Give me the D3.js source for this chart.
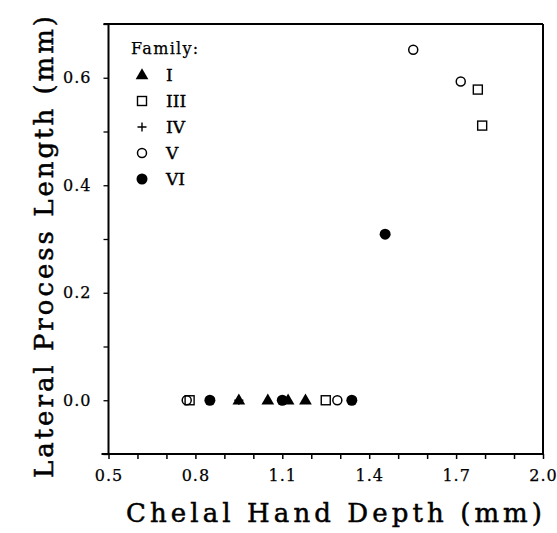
<!DOCTYPE html>
<html>
<head>
<meta charset="utf-8">
<script src="https://cdn.jsdelivr.net/npm/d3@7"></script>
<style>
  html, body { margin: 0; padding: 0; background: #fff; }
  svg { display: block; }
  text { font-family: "DejaVu Serif", "Liberation Serif", serif; fill: #000; }
</style>
</head>
<body>
<svg id="chart" width="557" height="533"></svg>
<script>
// ---- data ----
const families = ["I", "III", "IV", "V", "VI"];
const famI_x  = [0.95, 1.05, 1.12, 1.18];
const famI_y  = [0, 0, 0, 0];
const famIII_x = [0.78, 1.25, 1.775, 1.79];
const famIII_y = [0, 0, 0.578, 0.511];
const famIV_x = [0.95];
const famIV_y = [0];
const famV_x  = [0.77, 1.29, 1.552, 1.716];
const famV_y  = [0, 0, 0.652, 0.593];
const famVI_x = [0.85, 1.10, 1.34, 1.455];
const famVI_y = [0, 0, 0, 0.309];
const xTickLabels = [0.5, 0.8, 1.1, 1.4, 1.7, 2.0];
const yTickLabels = [0.0, 0.2, 0.4, 0.6];
const xTitle = "Chelal Hand Depth (mm)";
const yTitle = "Lateral Process Length (mm)";
const legendTitle = "Family:";

// ---- layout ----
const svg = d3.select("#chart");
const L = 108.5, R = 543, T = 24, B = 454;
const x = d3.scaleLinear().domain([0.5, 2.0]).range([L, R]);
const y = d3.scaleLinear().domain([-0.1, 0.7]).range([B, T]);

// frame
const frame = svg.append("g").attr("stroke", "#000").attr("fill", "none");
frame.append("line").attr("x1", L - 7).attr("x2", R).attr("y1", B).attr("y2", B).attr("stroke-width", 2.2);
frame.append("line").attr("x1", L - 5).attr("x2", R).attr("y1", T).attr("y2", T).attr("stroke-width", 2);
frame.append("line").attr("x1", L).attr("x2", L).attr("y1", T).attr("y2", B).attr("stroke-width", 2);
frame.append("line").attr("x1", R).attr("x2", R).attr("y1", T).attr("y2", B).attr("stroke-width", 2);

// bottom axis
const xAxis = d3.axisBottom(x)
  .tickValues(d3.range(0, 16).map(i => 0.5 + i * 0.1))
  .tickSize(5)
  .tickFormat(d => xTickLabels.some(v => Math.abs(v - d) < 1e-6) ? d3.format(".1f")(d) : "");
const gx = svg.append("g").attr("transform", `translate(0,${B})`).call(xAxis);
gx.select(".domain").remove();
gx.selectAll(".tick line").attr("stroke", "#000").attr("stroke-width", 1.5);
gx.selectAll(".tick text").attr("font-size", 16).attr("dy", "1.2em")
  .attr("font-family", "DejaVu Serif").attr("letter-spacing", "1px")
  .attr("stroke", "#000").attr("stroke-width", 0.25);

// left axis
const yAxis = d3.axisLeft(y)
  .tickValues(d3.range(0, 9).map(i => -0.1 + i * 0.1))
  .tickSize(5)
  .tickFormat(d => yTickLabels.some(v => Math.abs(v - d) < 1e-6) ? d3.format(".1f")(Math.abs(d) < 1e-9 ? 0 : d) : "");
const gy = svg.append("g").attr("transform", `translate(${L},0)`).call(yAxis);
gy.select(".domain").remove();
gy.selectAll(".tick line").attr("stroke", "#000").attr("stroke-width", 1.3);
gy.selectAll(".tick text").attr("font-size", 16).attr("x", -17)
  .attr("font-family", "DejaVu Serif").attr("letter-spacing", "1px")
  .attr("stroke", "#000").attr("stroke-width", 0.25);

// titles
svg.append("text")
  .attr("x", 126).attr("y", 522)
  .attr("font-size", 26).attr("stroke", "#000").attr("stroke-width", 0.5)
  .attr("textLength", 416).attr("lengthAdjust", "spacing")
  .text(xTitle);
svg.append("text")
  .attr("transform", `translate(53,478) rotate(-90)`)
  .attr("font-size", 26).attr("stroke", "#000").attr("stroke-width", 0.5)
  .attr("textLength", 462).attr("lengthAdjust", "spacing")
  .text(yTitle);

// markers
function drawMarker(g, fam, cx, cy) {
  if (fam === "I") {
    g.append("path").attr("d", d3.symbol(d3.symbolTriangle, 70)())
      .attr("transform", `translate(${cx},${cy + 0.5})`).attr("fill", "#000");
  } else if (fam === "III") {
    g.append("rect").attr("x", cx - 4.5).attr("y", cy - 4.5).attr("width", 9).attr("height", 9)
      .attr("fill", "none").attr("stroke", "#000").attr("stroke-width", 1.4);
  } else if (fam === "IV") {
    g.append("path").attr("d", `M${cx - 4.5},${cy}H${cx + 4.5}M${cx},${cy - 4.5}V${cy + 4.5}`)
      .attr("stroke", "#000").attr("stroke-width", 1.4);
  } else if (fam === "V") {
    g.append("circle").attr("cx", cx).attr("cy", cy).attr("r", 4.5)
      .attr("fill", "none").attr("stroke", "#000").attr("stroke-width", 1.5);
  } else {
    g.append("circle").attr("cx", cx).attr("cy", cy).attr("r", 5.5).attr("fill", "#000");
  }
}

const series = [
  ["I", famI_x, famI_y],
  ["III", famIII_x, famIII_y],
  ["IV", famIV_x, famIV_y],
  ["V", famV_x, famV_y],
  ["VI", famVI_x, famVI_y]
];
const pts = svg.append("g");
series.forEach(([fam, xs, ys]) => {
  xs.forEach((xv, i) => drawMarker(pts, fam, x(xv), y(ys[i])));
});

// legend
const lg = svg.append("g");
lg.append("text").attr("x", 131).attr("y", 54).attr("font-size", 16)
  .attr("letter-spacing", "1.3px")
  .attr("stroke", "#000").attr("stroke-width", 0.25).text(legendTitle);
families.forEach((fam, i) => {
  const cy = 75 + i * 26;
  drawMarker(lg, fam, 142, cy);
  lg.append("text").attr("x", 166).attr("y", cy + 6).attr("font-size", 17)
    .attr("stroke", "#000").attr("stroke-width", 0.4).text(fam);
});
</script>
</body>
</html>
